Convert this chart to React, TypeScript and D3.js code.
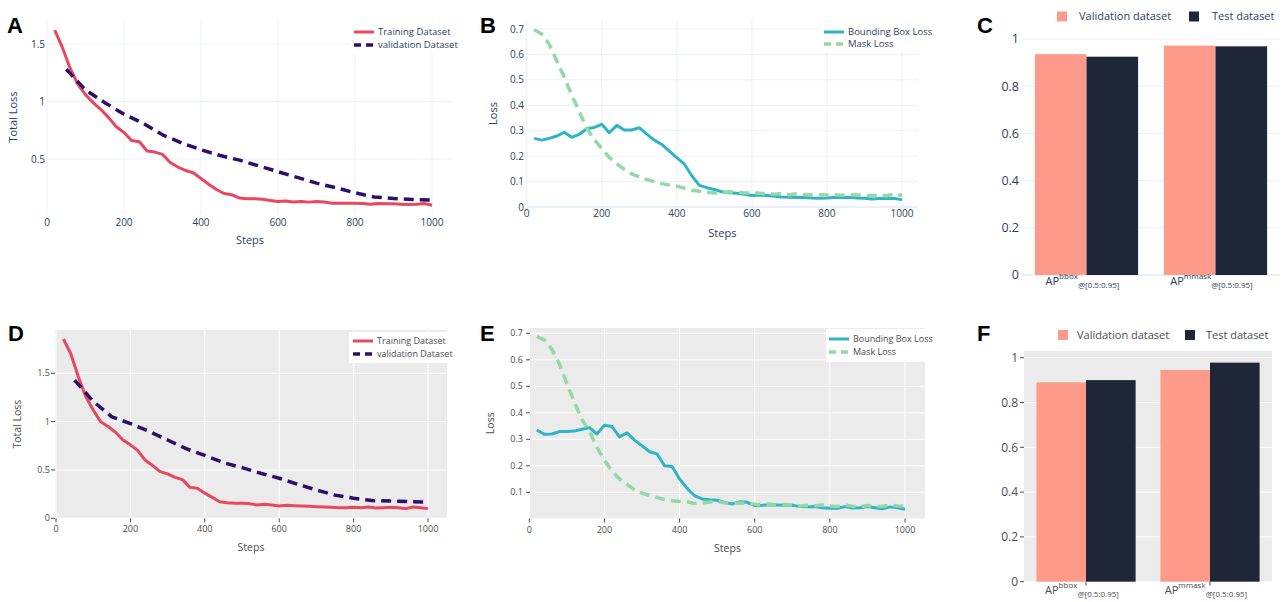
import React from 'react';
import * as d3 from 'd3';

// ---------- data ----------
const steps20 = [20, 40, 60, 80, 100, 120, 140, 160, 180, 200, 220, 240, 260, 280, 300, 320, 340, 360, 380, 400,
  420, 440, 460, 480, 500, 520, 540, 560, 580, 600, 620, 640, 660, 680, 700, 720, 740, 760, 780, 800,
  820, 840, 860, 880, 900, 920, 940, 960, 980, 1000];
const steps50 = [50, 100, 150, 200, 250, 300, 350, 400, 450, 500, 550, 600, 650, 700, 750, 800, 850, 900, 950, 1000];

const trainA = [1.62, 1.47, 1.29, 1.15, 1.06, 0.99, 0.93, 0.86, 0.78, 0.73, 0.66, 0.65, 0.57, 0.56, 0.54, 0.47, 0.43, 0.40, 0.38, 0.33,
  0.28, 0.235, 0.20, 0.19, 0.16, 0.155, 0.155, 0.15, 0.14, 0.13, 0.135, 0.127, 0.13, 0.125, 0.13, 0.127, 0.116, 0.116, 0.116, 0.116,
  0.113, 0.107, 0.113, 0.11, 0.11, 0.107, 0.105, 0.107, 0.113, 0.098];
const valA = [1.28, 1.10, 0.99, 0.89, 0.81, 0.71, 0.64, 0.58, 0.53, 0.49, 0.44, 0.39, 0.34, 0.29, 0.25, 0.206, 0.17, 0.157, 0.148, 0.142];

const bboxB = [0.27, 0.263, 0.27, 0.279, 0.294, 0.274, 0.286, 0.308, 0.313, 0.325, 0.292, 0.321, 0.303, 0.303, 0.312, 0.287, 0.263, 0.246, 0.22, 0.194,
  0.169, 0.123, 0.085, 0.076, 0.069, 0.06, 0.056, 0.054, 0.05, 0.045, 0.047, 0.045, 0.042, 0.039, 0.038, 0.037, 0.037, 0.035, 0.034, 0.035,
  0.037, 0.037, 0.038, 0.035, 0.034, 0.031, 0.033, 0.033, 0.034, 0.028];
const maskB = [0.697, 0.68, 0.64, 0.575, 0.51, 0.44, 0.375, 0.31, 0.265, 0.23, 0.195, 0.17, 0.148, 0.13, 0.118, 0.108, 0.1, 0.092, 0.086, 0.082,
  0.074, 0.066, 0.062, 0.058, 0.055, 0.057, 0.06, 0.058, 0.056, 0.055, 0.054, 0.052, 0.05, 0.052, 0.048, 0.052, 0.049, 0.047, 0.048, 0.047,
  0.048, 0.046, 0.048, 0.047, 0.046, 0.045, 0.046, 0.044, 0.052, 0.045];

const trainD = [1.855, 1.70, 1.465, 1.26, 1.12, 1.0, 0.95, 0.89, 0.81, 0.76, 0.70, 0.60, 0.545, 0.483, 0.46, 0.424, 0.40, 0.32, 0.31, 0.26,
  0.217, 0.172, 0.162, 0.155, 0.155, 0.152, 0.138, 0.145, 0.138, 0.128, 0.134, 0.131, 0.128, 0.124, 0.12, 0.117, 0.114, 0.11, 0.11, 0.114,
  0.11, 0.117, 0.107, 0.11, 0.114, 0.11, 0.10, 0.117, 0.11, 0.10];
const valD = [1.43, 1.21, 1.05, 0.98, 0.90, 0.81, 0.72, 0.65, 0.576, 0.524, 0.466, 0.414, 0.352, 0.293, 0.24, 0.207, 0.183, 0.179, 0.172, 0.169];

const bboxE = [0.335, 0.319, 0.32, 0.329, 0.329, 0.331, 0.338, 0.344, 0.32, 0.353, 0.348, 0.309, 0.324, 0.297, 0.276, 0.253, 0.245, 0.20, 0.197, 0.15,
  0.115, 0.087, 0.075, 0.072, 0.07, 0.062, 0.056, 0.064, 0.062, 0.05, 0.051, 0.053, 0.052, 0.051, 0.051, 0.046, 0.045, 0.046, 0.042, 0.04,
  0.04, 0.046, 0.041, 0.042, 0.046, 0.042, 0.038, 0.045, 0.042, 0.036];
const maskE = [0.688, 0.675, 0.64, 0.585, 0.51, 0.44, 0.375, 0.33, 0.27, 0.22, 0.18, 0.15, 0.13, 0.11, 0.097, 0.088, 0.08, 0.073, 0.068, 0.065,
  0.064, 0.058, 0.06, 0.063, 0.066, 0.06, 0.058, 0.06, 0.058, 0.055, 0.054, 0.056, 0.052, 0.054, 0.052, 0.048, 0.05, 0.049, 0.052, 0.048,
  0.046, 0.052, 0.047, 0.046, 0.05, 0.046, 0.047, 0.052, 0.048, 0.047];

const barCategories = ['bbox', 'mmask'];
const valBarsC = [0.936, 0.972];
const testBarsC = [0.925, 0.969];
const valBarsF = [0.89, 0.945];
const testBarsF = [0.90, 0.978];

const stepTicks = [0, 200, 400, 600, 800, 1000];
const totalLossTicksA = [0.5, 1, 1.5];
const totalLossTicksD = [0, 0.5, 1, 1.5];
const lossTicksB = [0, 0.1, 0.2, 0.3, 0.4, 0.5, 0.6, 0.7];
const lossTicksE = [0.1, 0.2, 0.3, 0.4, 0.5, 0.6, 0.7];
const apTicks = [0, 0.2, 0.4, 0.6, 0.8, 1];

// ---------- styles ----------
const FONT = '"Open Sans", "DejaVu Sans", sans-serif';
const TRAIN = '#E8475F';
const VAL = '#2C0F6B';
const BBOX = '#2FB4C6';
const MASK = '#92D9A5';
const SALMON = '#FD9A8A';
const NAVY = '#1D2738';
const WHITE_TXT = '#2a3f5f';
const WHITE_GRID = '#EBF0F8';
const GG_TXT = '#4d4d4d';
const GG_BG = '#EBEBEB';

type Series = { xs: number[]; ys: number[]; color: string; dash?: string; width: number; name: string };

type LineProps = {
  theme: 'white' | 'gg';
  xMap: [number, number];
  yRef: [number, number, number, number];
  rect: [number, number, number, number];
  yTicks: number[];
  series: Series[];
  xTickY: number;
  yTickEnd: number;
  yTitle: string;
  yTitleX: number;
  xTitleY: number;
  legend: { box: [number, number, number, number]; lineX: number; textX: number; rowY: [number, number] };
  fs: { tick: number; title: number; legend: number };
  zeroLine?: boolean;
};

function LinePanel(p: LineProps) {
  const [rx0, ry0, rx1, ry1] = p.rect;
  const x = d3.scaleLinear().domain([0, 1000]).range(p.xMap);
  const y = d3.scaleLinear().domain([p.yRef[0], p.yRef[2]]).range([p.yRef[1], p.yRef[3]]);
  const gg = p.theme === 'gg';
  const txt = gg ? GG_TXT : WHITE_TXT;
  const grid = gg ? '#ffffff' : WHITE_GRID;
  const makePath = (s: Series) =>
    d3.line<[number, number]>().x(d => x(d[0])).y(d => y(d[1]))(s.xs.map((v, i) => [v, s.ys[i]] as [number, number])) || '';
  return (
    <g>
      {gg && <rect x={rx0} y={ry0} width={rx1 - rx0} height={ry1 - ry0} fill={GG_BG} />}
      {stepTicks.map(t => (
        <line key={'vx' + t} x1={x(t)} x2={x(t)} y1={ry0} y2={ry1} stroke={grid} strokeWidth={1} />
      ))}
      {p.yTicks.map(t => (
        <line key={'hy' + t} x1={rx0} x2={rx1} y1={y(t)} y2={y(t)} stroke={grid}
          strokeWidth={p.zeroLine && t === 0 ? 2 : 1} />
      ))}
      {gg && stepTicks.map(t => (
        <line key={'tx' + t} x1={x(t)} x2={x(t)} y1={ry1} y2={ry1 + 4} stroke={GG_TXT} strokeWidth={1} />
      ))}
      {gg && p.yTicks.map(t => (
        <line key={'ty' + t} x1={rx0 - 4} x2={rx0} y1={y(t)} y2={y(t)} stroke={GG_TXT} strokeWidth={1} />
      ))}
      {stepTicks.map(t => (
        <text key={'lx' + t} x={x(t)} y={p.xTickY} dy="0.35em" textAnchor="middle" fontSize={p.fs.tick} fill={txt}>{t}</text>
      ))}
      {p.yTicks.map(t => (
        <text key={'ly' + t} x={p.yTickEnd} y={y(t)} dy="0.35em" textAnchor="end" fontSize={p.fs.tick} fill={txt}>{String(t)}</text>
      ))}
      <text x={(rx0 + rx1) / 2} y={p.xTitleY} dy="0.35em" textAnchor="middle" fontSize={p.fs.title} fill={txt}>Steps</text>
      <text transform={`translate(${p.yTitleX},${(ry0 + ry1) / 2}) rotate(-90)`} dy="0.35em" textAnchor="middle"
        fontSize={p.fs.title} fill={txt}>{p.yTitle}</text>
      {p.series.map(s => (
        <path key={s.name} d={makePath(s)} fill="none" stroke={s.color} strokeWidth={s.width}
          strokeDasharray={s.dash} strokeLinejoin="round" />
      ))}
      <rect x={p.legend.box[0]} y={p.legend.box[1]} width={p.legend.box[2] - p.legend.box[0]}
        height={p.legend.box[3] - p.legend.box[1]} fill="#ffffff" />
      {p.series.map((s, i) => (
        <g key={'lg' + s.name}>
          <line x1={p.legend.lineX} x2={p.legend.lineX + 20} y1={p.legend.rowY[i]} y2={p.legend.rowY[i]}
            stroke={s.color} strokeWidth={s.width} strokeDasharray={s.dash ? '7,5' : undefined} />
          <text x={p.legend.textX} y={p.legend.rowY[i]} dy="0.35em" fontSize={p.fs.legend} fill={txt}>{s.name}</text>
        </g>
      ))}
    </g>
  );
}

type BarProps = {
  theme: 'white' | 'gg';
  rect: [number, number, number, number];
  yMap: [number, number];
  vals: number[];
  tests: number[];
  yTickEnd: number;
  catY: number;
  legendY: number;
  legendX: [number, number, number, number];
  fs: { tick: number; legend: number; cat: number; small: number };
};

function BarPanel(p: BarProps) {
  const [rx0, ry0, rx1, ry1] = p.rect;
  const gg = p.theme === 'gg';
  const txt = gg ? GG_TXT : WHITE_TXT;
  const grid = gg ? '#ffffff' : WHITE_GRID;
  const y = d3.scaleLinear().domain([0, 1]).range(p.yMap);
  const xb = d3.scaleBand().domain(barCategories).range([rx0, rx1]).paddingInner(0.2).paddingOuter(0.1);
  const inner = d3.scaleBand().domain(['val', 'test']).range([0, xb.bandwidth()]);
  return (
    <g>
      {gg && <rect x={rx0} y={ry0} width={rx1 - rx0} height={ry1 - ry0} fill={GG_BG} />}
      {apTicks.map(t => (
        <line key={'g' + t} x1={rx0} x2={rx1} y1={y(t)} y2={y(t)} stroke={grid} strokeWidth={!gg && t === 0 ? 2 : 1} />
      ))}
      {gg && apTicks.map(t => (
        <line key={'t' + t} x1={rx0 - 4} x2={rx0} y1={y(t)} y2={y(t)} stroke={GG_TXT} />
      ))}
      {apTicks.map(t => (
        <text key={'l' + t} x={p.yTickEnd} y={y(t)} dy="0.35em" textAnchor="end" fontSize={p.fs.tick} fill={txt}>{String(t)}</text>
      ))}
      {barCategories.map((c, i) => (
        <g key={c}>
          <rect x={(xb(c) as number) + (inner('val') as number)} y={y(p.vals[i])} width={inner.bandwidth()}
            height={y(0) - y(p.vals[i])} fill={SALMON} />
          <rect x={(xb(c) as number) + (inner('test') as number)} y={y(p.tests[i])} width={inner.bandwidth()}
            height={y(0) - y(p.tests[i])} fill={NAVY} />
          {gg && <line x1={(xb(c) as number) + xb.bandwidth() / 2} x2={(xb(c) as number) + xb.bandwidth() / 2}
            y1={ry1} y2={ry1 + 4} stroke={GG_TXT} />}
          <text x={(xb(c) as number) + xb.bandwidth() / 2 - 4} y={p.catY} textAnchor="middle" fill={txt} fontSize={p.fs.cat}>
            AP<tspan fontSize={p.fs.small} dy={-6}>{c}</tspan><tspan fontSize={p.fs.small} dy={9}>@[0.5:0.95]</tspan>
          </text>
        </g>
      ))}
      <rect x={p.legendX[0]} y={p.legendY - 5} width={10} height={10} fill={SALMON} />
      <text x={p.legendX[1]} y={p.legendY} dy="0.35em" fontSize={p.fs.legend} fill={txt}>Validation dataset</text>
      <rect x={p.legendX[2]} y={p.legendY - 5} width={10} height={10} fill={NAVY} />
      <text x={p.legendX[3]} y={p.legendY} dy="0.35em" fontSize={p.fs.legend} fill={txt}>Test dataset</text>
    </g>
  );
}

function PanelLabel({ x, y, t }: { x: number; y: number; t: string }) {
  return (
    <text x={x} y={y} fontFamily='"Liberation Sans", Arial, sans-serif' fontWeight="bold" fontSize={22} fill="#000">{t}</text>
  );
}

export default function App() {
  return (
    <svg width={1286} height={602} style={{ position: 'absolute', left: 0, top: 0, background: '#fff' }}
      fontFamily={FONT}>
      <rect x={0} y={0} width={1286} height={602} fill="#fff" />
      <LinePanel theme="white" xMap={[47, 432]} yRef={[0.5, 159, 1.5, 44]} rect={[47, 20, 453, 214]}
        yTicks={totalLossTicksA}
        series={[
          { xs: steps20, ys: trainA, color: TRAIN, width: 3, name: 'Training Dataset' },
          { xs: steps50, ys: valA, color: VAL, dash: '10,6', width: 3.5, name: 'validation Dataset' },
        ]}
        xTickY={222} yTickEnd={45} yTitle="Total Loss" yTitleX={13} xTitleY={240}
        legend={{ box: [350, 22, 458, 54], lineX: 354, textX: 378, rowY: [32, 45] }}
        fs={{ tick: 10, title: 11, legend: 9.5 }} />
      <LinePanel theme="white" xMap={[526.7, 902]} yRef={[0, 207, 0.7, 29]} rect={[526.7, 20, 918, 207]}
        yTicks={lossTicksB} zeroLine
        series={[
          { xs: steps20, ys: bboxB, color: BBOX, width: 3, name: 'Bounding Box Loss' },
          { xs: steps20, ys: maskB, color: MASK, dash: '10,6', width: 3.5, name: 'Mask Loss' },
        ]}
        xTickY={213} yTickEnd={524} yTitle="Loss" yTitleX={493} xTitleY={233}
        legend={{ box: [820, 22, 930, 52], lineX: 824, textX: 848, rowY: [32, 44] }}
        fs={{ tick: 10, title: 11, legend: 9.5 }} />
      <BarPanel theme="white" rect={[1022, 27, 1280, 275]} yMap={[275, 39]} vals={valBarsC} tests={testBarsC}
        yTickEnd={1019} catY={285} legendY={16.5} legendX={[1057, 1079, 1189, 1212]}
        fs={{ tick: 12.5, legend: 11, cat: 11, small: 8 }} />

      <LinePanel theme="gg" xMap={[56, 428]} yRef={[0, 518.3, 1.5, 373.3]} rect={[55, 330, 447, 518.3]}
        yTicks={totalLossTicksD}
        series={[
          { xs: steps20, ys: trainD, color: TRAIN, width: 3, name: 'Training Dataset' },
          { xs: steps50, ys: valD, color: VAL, dash: '10,6', width: 3.5, name: 'validation Dataset' },
        ]}
        xTickY={529} yTickEnd={50} yTitle="Total Loss" yTitleX={17} xTitleY={547}
        legend={{ box: [349, 332, 447, 363], lineX: 353, textX: 377, rowY: [341, 354] }}
        fs={{ tick: 9, title: 10.5, legend: 9 }} />
      <LinePanel theme="gg" xMap={[529.3, 905]} yRef={[0.1, 492.3, 0.7, 333.3]} rect={[530, 328, 925, 518.5]}
        yTicks={lossTicksE}
        series={[
          { xs: steps20, ys: bboxE, color: BBOX, width: 3, name: 'Bounding Box Loss' },
          { xs: steps20, ys: maskE, color: MASK, dash: '10,6', width: 3.5, name: 'Mask Loss' },
        ]}
        xTickY={530} yTickEnd={523} yTitle="Loss" yTitleX={490} xTitleY={548}
        legend={{ box: [826, 329, 925, 362], lineX: 829, textX: 853, rowY: [339, 352] }}
        fs={{ tick: 9, title: 10.5, legend: 9 }} />
      <BarPanel theme="gg" rect={[1024, 351, 1272, 581.7]} yMap={[581.7, 357.7]} vals={valBarsF} tests={testBarsF}
        yTickEnd={1018} catY={594} legendY={335} legendX={[1058, 1077, 1185, 1206]}
        fs={{ tick: 12, legend: 11, cat: 11, small: 8 }} />

      <PanelLabel x={7} y={33} t="A" />
      <PanelLabel x={480} y={33} t="B" />
      <PanelLabel x={977} y={33} t="C" />
      <PanelLabel x={8} y={341} t="D" />
      <PanelLabel x={480} y={341} t="E" />
      <PanelLabel x={977} y={341} t="F" />
    </svg>
  );
}
